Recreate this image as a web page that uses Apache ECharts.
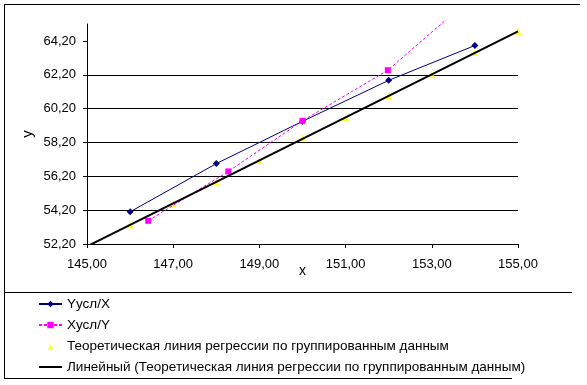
<!DOCTYPE html>
<html>
<head>
<meta charset="utf-8">
<script src="https://cdn.jsdelivr.net/npm/echarts@6/dist/echarts.min.js"></script>
<style>
html,body{margin:0;padding:0;background:#fff;}
#c{width:587px;height:385px;}
</style>
</head>
<body>
<div id="c"></div>
<script>
// ---- data ----
const seriesNames = [
  'Yусл/X',
  'Xусл/Y',
  'Теоретическая линия регрессии по группированным данным',
  'Линейный (Теоретическая линия регрессии по группированным данным)'
];
const yCondX_x = [146, 148, 150, 152, 154];
const yCondX_y = [54.10, 56.95, 59.45, 61.87, 63.93];
const xCondY_x = [146.42, 148.28, 150.00, 151.98, 153.32];
const xCondY_y = [53.57, 56.49, 59.48, 62.47, 65.43];
const theo_x = [146, 147, 148, 149, 150, 151, 152, 153, 154, 155];
const theo_y = [53.33, 54.56, 55.86, 57.14, 58.47, 59.66, 60.98, 62.23, 63.52, 64.76];
const trend_x = [145, 155];
const trend_y = [52.06, 64.76];
const yTickValues = [52.2, 54.2, 56.2, 58.2, 60.2, 62.2, 64.2];
const xTickValues = [145, 147, 149, 151, 153, 155];

const FONT = "'Liberation Sans', Arial, sans-serif";
const fmt = v => Number(v).toFixed(2).replace('.', ',');
const zip = (a, b) => a.map((v, i) => [v, b[i]]);

const chart = echarts.init(document.getElementById('c'), null, {renderer: 'canvas'});
const option = {
  animation: false,
  backgroundColor: '#fff',
  textStyle: {fontFamily: FONT},
  grid: {left: 87, right: 69, top: 24, bottom: 141, containLabel: false},
  xAxis: {
    type: 'value', min: 145, max: 155, interval: 2,
    name: 'x', nameLocation: 'middle', nameGap: 20, nameMoveOverlap: false,
    nameTextStyle: {color: '#000', fontSize: 14, fontFamily: FONT},
    axisLine: {show: true, onZero: false, lineStyle: {color: '#000', width: 1}},
    axisTick: {show: true, length: 4, lineStyle: {color: '#000'}},
    axisLabel: {color: '#000', fontSize: 13, fontFamily: FONT, margin: 14, formatter: fmt},
    splitLine: {show: false}
  },
  yAxis: {
    type: 'value', min: 52.2, max: 65.2, interval: 2,
    name: 'y', nameLocation: 'middle', nameGap: 52, nameMoveOverlap: false,
    nameTextStyle: {color: '#000', fontSize: 15, fontFamily: FONT},
    axisLine: {show: true, onZero: false, lineStyle: {color: '#000', width: 1}},
    axisTick: {show: true, length: 4, lineStyle: {color: '#000'}, customValues: yTickValues},
    axisLabel: {color: '#000', fontSize: 13, fontFamily: FONT, margin: 11, formatter: fmt,
      customValues: yTickValues},
    splitLine: {show: true, showMaxLine: false, lineStyle: {color: '#000', width: 1, type: 'solid'}}
  },
  legend: {
    orient: 'vertical', left: 38, top: 297, padding: 0,
    itemWidth: 23, itemHeight: 8, itemGap: 7,
    textStyle: {color: '#000', fontSize: 13.5, fontFamily: FONT},
    data: [
      {name: seriesNames[0]},
      {name: seriesNames[1]},
      {name: seriesNames[2], icon: 'path://M0,0L0,0M8.5,8L11.5,2L14.5,8ZM23,8L23,8'},
      {name: seriesNames[3], itemStyle: {opacity: 0}}
    ]
  },
  series: [
    {
      name: seriesNames[0], type: 'line', data: zip(yCondX_x, yCondX_y),
      symbol: 'diamond', symbolSize: 7,
      itemStyle: {color: '#000080'},
      lineStyle: {color: '#000080', width: 1},
      z: 3
    },
    {
      name: seriesNames[1], type: 'line',
      data: zip(xCondY_x, xCondY_y).map((p, i, arr) =>
        i === arr.length - 1 ? {value: p, symbol: 'none'} : p),
      symbol: 'rect', symbolSize: 6, clip: false,
      itemStyle: {color: '#FF00FF'},
      lineStyle: {color: '#FF00FF', width: 1, type: [3, 2]},
      z: 4
    },
    {
      name: seriesNames[2], type: 'scatter', data: zip(theo_x, theo_y),
      symbol: 'triangle', symbolSize: 7,
      itemStyle: {color: '#FFFF00'},
      z: 2
    },
    {
      name: seriesNames[3], type: 'line', data: zip(trend_x, trend_y),
      symbol: 'none', clip: true,
      lineStyle: {color: '#000', width: 2},
      itemStyle: {color: '#000'},
      z: 5
    }
  ],
  graphic: [
    {type: 'line', shape: {x1: 4, y1: 4.5, x2: 580, y2: 4.5}, style: {stroke: '#000', lineWidth: 1}, silent: true},
    {type: 'line', shape: {x1: 4.5, y1: 4, x2: 4.5, y2: 378}, style: {stroke: '#000', lineWidth: 1}, silent: true},
    {type: 'line', shape: {x1: 4, y1: 292.5, x2: 572, y2: 292.5}, style: {stroke: '#000', lineWidth: 1}, silent: true},
    {type: 'line', shape: {x1: 4, y1: 378.5, x2: 512, y2: 378.5}, style: {stroke: '#000', lineWidth: 1}, silent: true}
  ]
};
chart.setOption(option);
</script>
</body>
</html>
